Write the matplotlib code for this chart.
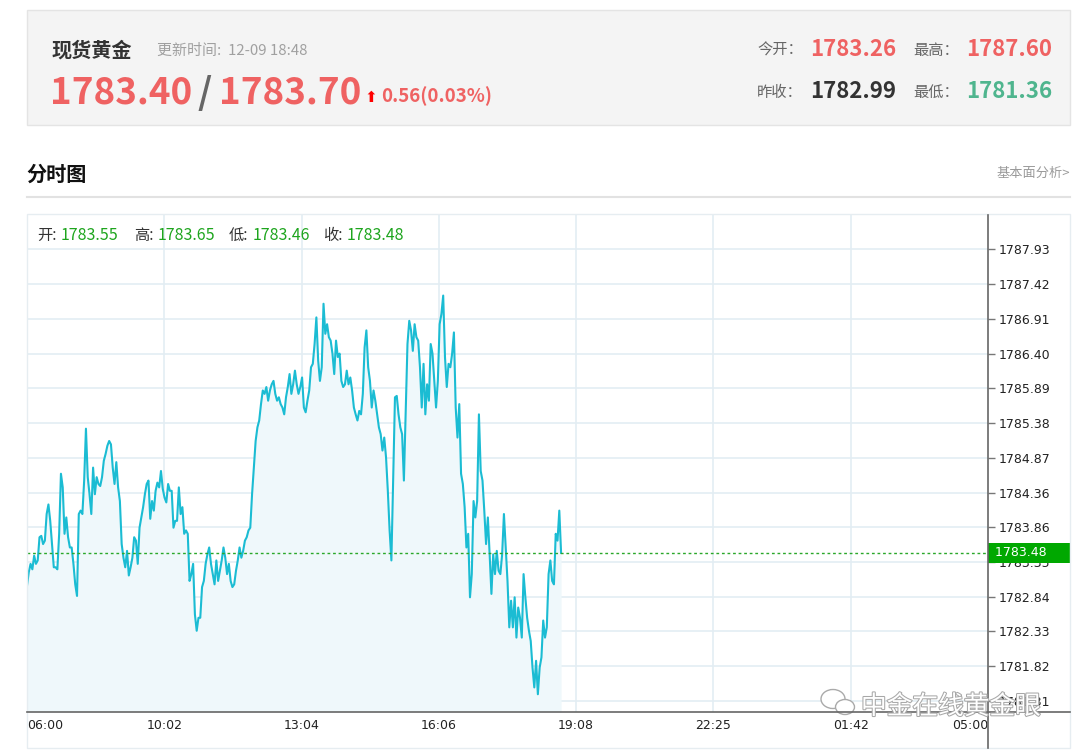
import numpy as np
import matplotlib
matplotlib.use('Agg')
import matplotlib.pyplot as plt
from matplotlib.patches import Rectangle, Ellipse
from matplotlib.lines import Line2D
import matplotlib.patheffects as pe

W, H = 1080, 751
CJK = ['Noto Sans CJK SC', 'DejaVu Sans']

# header quote
name = '现货黄金'
update_time = '12-09 18:48'
bid, ask = '1783.40', '1783.70'
change = '0.56(0.03%)'
today_open, high, prev_close, low = '1783.26', '1787.60', '1782.99', '1781.36'

# current bar (open / high / low / close)
bar_labels = ['开:', '高:', '低:', '收:']
bar_values = ['1783.55', '1783.65', '1783.46', '1783.48']
last_price = 1783.48

# time axis: one slot per sample, full session = 538 slots
SLOTS_PER_DAY = 538
time_labels = ['06:00', '10:02', '13:04', '16:06', '19:08', '22:25', '01:42', '05:00']
price_ticks = [1787.93, 1787.42, 1786.91, 1786.40, 1785.89, 1785.38, 1784.87,
               1784.36, 1783.86, 1783.35, 1782.84, 1782.33, 1781.82, 1781.31]

# intraday prices
prices_morning = [
    1783.00, 1783.20, 1783.32, 1783.24, 1783.44, 1783.32, 1783.37, 1783.71, 1783.73, 1783.61,
    1783.66, 1784.05, 1784.19, 1783.95, 1783.61, 1783.27, 1783.27, 1783.24, 1783.76, 1784.64,
    1784.44, 1783.76, 1784.00, 1783.71, 1783.56, 1783.56, 1783.32, 1783.02, 1782.85, 1784.05,
    1784.10, 1784.05, 1784.54, 1785.30, 1784.59, 1784.34, 1784.05, 1784.73, 1784.34, 1784.59,
    1784.49, 1784.46, 1784.59, 1784.83, 1784.93, 1785.05, 1785.12, 1785.07, 1784.73, 1784.49,
    1784.81, 1784.44, 1784.24, 1783.61, 1783.41, 1783.27, 1783.51, 1783.15, 1783.27, 1783.41,
    1783.71, 1783.66, 1783.32, 1783.85, 1784.00, 1784.15, 1784.34, 1784.49, 1784.54, 1783.98,
    1784.24, 1784.10, 1784.39, 1784.51, 1784.44, 1784.68, 1784.42, 1784.29, 1784.22, 1784.49,
    1784.39, 1784.39, 1783.85, 1783.95, 1783.95, 1784.44, 1784.05, 1784.15,
]
prices_midday = [
    1783.76, 1783.81, 1783.76, 1783.07, 1783.17, 1783.32, 1782.58, 1782.34, 1782.53, 1782.53,
    1782.98, 1783.07, 1783.32, 1783.46, 1783.56, 1783.32, 1783.17, 1783.02, 1783.37, 1783.07,
    1783.22, 1783.37, 1783.56, 1783.41, 1783.17, 1783.32, 1783.07, 1782.98, 1783.02, 1783.22,
    1783.37, 1783.56, 1783.41, 1783.51, 1783.66, 1783.71, 1783.81, 1783.85, 1784.34, 1784.73,
    1785.12, 1785.32, 1785.42, 1785.66, 1785.86, 1785.81, 1785.91, 1785.71, 1785.86, 1785.95,
    1786.00, 1785.81, 1785.71, 1785.76, 1785.66, 1785.61, 1785.51, 1785.76, 1785.91, 1786.10,
    1785.81, 1785.95, 1786.15, 1785.95, 1785.81, 1785.91, 1786.05, 1785.61, 1785.54, 1785.71,
    1785.86, 1786.20, 1786.25, 1786.54, 1786.93, 1786.30, 1786.00, 1786.20, 1787.13, 1786.69,
    1786.83, 1786.64, 1786.59, 1786.40, 1786.10, 1786.59, 1786.35, 1786.40, 1786.00, 1785.91,
    1785.95, 1786.15, 1785.95, 1786.05, 1785.86, 1785.61, 1785.51, 1785.42, 1785.56, 1785.51,
    1785.81, 1786.49, 1786.74, 1786.20, 1786.00, 1785.61, 1785.86, 1785.71, 1785.51, 1785.32,
    1785.22, 1784.98, 1785.17, 1784.88, 1784.39, 1783.81, 1783.37, 1784.54, 1785.76, 1785.78,
    1785.51, 1785.32, 1785.22, 1784.54, 1785.51, 1786.54, 1786.88, 1786.74, 1786.44, 1786.83,
    1786.64, 1786.59, 1786.20, 1785.61, 1786.25, 1785.51, 1785.95, 1785.71, 1786.54, 1786.40,
    1786.00, 1785.61, 1786.00, 1786.83, 1786.98, 1787.25, 1786.35, 1785.91, 1786.25, 1786.20,
    1786.40, 1786.71,
]
prices_evening = [
    1785.61, 1785.17, 1785.66, 1784.64, 1784.49, 1784.15, 1783.56, 1783.76, 1782.83, 1783.17,
    1784.24, 1784.00, 1784.24, 1785.51, 1784.68, 1784.54, 1784.10, 1783.61, 1784.00, 1783.46,
    1782.88, 1783.46, 1783.17, 1783.51, 1783.22, 1783.17, 1783.46, 1784.05, 1783.56, 1783.07,
    1782.39, 1782.78, 1782.39, 1782.83, 1782.24, 1782.68, 1782.53, 1782.24, 1783.17, 1782.83,
    1782.53, 1782.34, 1782.19, 1781.80, 1781.51, 1781.90, 1781.41, 1781.80, 1781.95, 1782.49,
    1782.24, 1782.39, 1783.17, 1783.37, 1783.07, 1783.02, 1783.76, 1783.66, 1784.10, 1783.48,
]
prices = np.array(prices_morning + prices_midday + prices_evening)
slots = np.arange(len(prices))

RED = '#ef6262'
GREEN_Q = '#4fb58e'
LINE = '#1bbcd3'


def fx(x):
    return x / W


def fy(y):
    return 1 - y / H


fig = plt.figure(figsize=(W / 100, H / 100), dpi=100)
fig.patch.set_facecolor('white')

# header box
fig.patches.append(Rectangle((fx(27), fy(125)), fx(1070) - fx(27), fy(10) - fy(125),
                             transform=fig.transFigure, fc='#f4f4f4', ec='#e4e4e4', lw=1))
fig.text(fx(51), fy(57), name, family=CJK, fontsize=14.5, weight='bold', color='#333333')
fig.text(fx(157), fy(55), '更新时间:  ' + update_time, family=CJK, fontsize=10.8, color='#a0a0a0')
fig.text(fx(50), fy(104), bid, family=CJK, fontsize=26.5, weight='bold', color=RED)
fig.text(fx(197), fy(104), '/', family=CJK, fontsize=26.5, weight='bold', color='#666666')
fig.text(fx(219), fy(104), ask, family=CJK, fontsize=26.5, weight='bold', color=RED)
fig.text(fx(364), fy(102), '⬆', family=['DejaVu Sans'], fontsize=11, color='#ff0000')
fig.text(fx(381), fy(102), change, family=CJK, fontsize=13.5, weight='bold', color=RED)

fig.text(fx(757), fy(55), '今开：', family=CJK, fontsize=11, color='#666666')
fig.text(fx(810), fy(56), today_open, family=CJK, fontsize=16, weight='bold', color=RED)
fig.text(fx(913), fy(55), '最高：', family=CJK, fontsize=11, color='#666666')
fig.text(fx(966), fy(56), high, family=CJK, fontsize=16, weight='bold', color=RED)
fig.text(fx(757), fy(97), '昨收：', family=CJK, fontsize=11, color='#666666')
fig.text(fx(810), fy(98), prev_close, family=CJK, fontsize=16, weight='bold', color='#333333')
fig.text(fx(913), fy(97), '最低：', family=CJK, fontsize=11, color='#666666')
fig.text(fx(966), fy(98), low, family=CJK, fontsize=16, weight='bold', color=GREEN_Q)

# section title
fig.text(fx(26), fy(181), '分时图', family=CJK, fontsize=14.5, weight='bold', color='#111111')
fig.text(fx(1070), fy(177), '基本面分析>', family=CJK, fontsize=9.5, color='#9a9a9a', ha='right')
fig.lines.append(Line2D([fx(27), fx(1070)], [fy(197), fy(197)], transform=fig.transFigure,
                        color='#e2e2e2', lw=1.5))

# chart frame
fig.patches.append(Rectangle((fx(27), fy(748)), fx(1070) - fx(27), fy(214) - fy(748),
                             transform=fig.transFigure, fc='none', ec='#e6edf1', lw=1))

ax = fig.add_axes([fx(27), fy(712), fx(988) - fx(27), fy(215) - fy(712)])
ax.set_facecolor('none')
ax.set_xlim(0, SLOTS_PER_DAY)
ax.set_ylim(1781.15, 1788.43)

ax.fill_between(slots, prices, 1781.15, color='#eff8fb', lw=0, zorder=1)
ax.plot(slots, prices, color=LINE, lw=1.5, zorder=3)
ax.axhline(last_price, color='#2aa82a', lw=1, ls=(0, (2, 2)), zorder=4)

xt = np.linspace(0, SLOTS_PER_DAY, len(time_labels))
for x in xt[1:-1]:
    ax.axvline(x, color='#e3edf3', lw=1.2, zorder=0)
for y in price_ticks:
    ax.axhline(y, color='#e3edf3', lw=1.2, zorder=0)

for s in ['top', 'left', 'right', 'bottom']:
    ax.spines[s].set_visible(False)

ax.set_xticks(xt)
ax.set_xticklabels(time_labels, family=['DejaVu Sans'], fontsize=9, color='#222222')
ax.tick_params(axis='x', length=0, pad=5)
xlabels = ax.get_xticklabels()
xlabels[0].set_ha('left')
xlabels[-1].set_ha('right')

ax.yaxis.tick_right()
ax.set_yticks(price_ticks)
ax.set_yticklabels(['%.2f' % v for v in price_ticks], family=['DejaVu Sans'], fontsize=9,
                   color='#222222')
ax.tick_params(axis='y', length=5, width=1, color='#777777', pad=3)

# axis lines
fig.lines.append(Line2D([fx(27), fx(1070)], [fy(712), fy(712)], transform=fig.transFigure,
                        color='#666666', lw=1.2))
fig.lines.append(Line2D([fx(988), fx(988)], [fy(215), fy(748)], transform=fig.transFigure,
                        color='#666666', lw=1.2))

# last price tag
ax.text(1.003, last_price, ' ' + '%.2f' % last_price + '     ', transform=ax.get_yaxis_transform(),
        ha='left', va='center', fontsize=9, family=['DejaVu Sans'], color='white', zorder=10,
        bbox=dict(boxstyle='square,pad=0.25', fc='#00a800', ec='none'), clip_on=False)

# current bar
bar_x = [37, 134, 229, 323]
for bx, lab, val in zip(bar_x, bar_labels, bar_values):
    fig.text(fx(bx), fy(240), lab, family=CJK, fontsize=11, color='#333333')
    fig.text(fx(bx + 24), fy(240), val, family=CJK, fontsize=11.5, color='#1ea51e')

# watermark
for cx, cy, w, h in [(833, 699, 24, 19), (845, 707, 19, 15)]:
    fig.patches.append(Ellipse((fx(cx), fy(cy)), w / W, h / H, transform=fig.transFigure,
                               fc='white', ec='#aaaaaa', lw=1))
fig.text(fx(861), fy(714), '中金在线黄金眼', family=CJK, fontsize=18.5, color='white',
         path_effects=[pe.withStroke(linewidth=1.5, foreground='#a8a8a8')])

fig.savefig('out.png', dpi=100)
